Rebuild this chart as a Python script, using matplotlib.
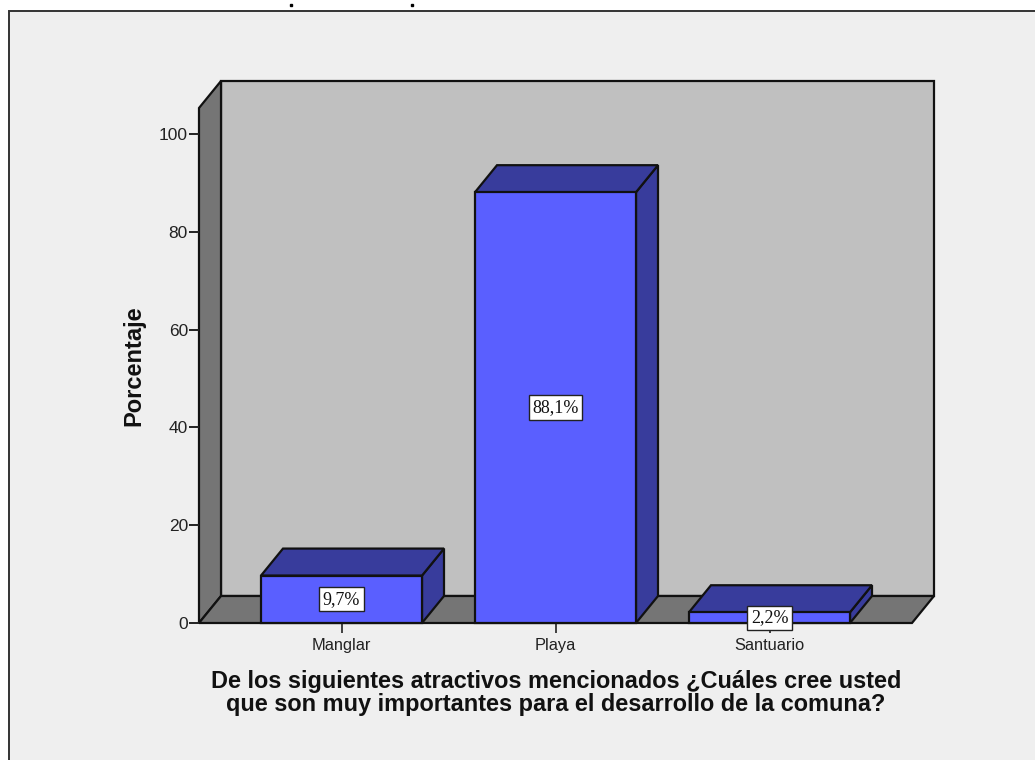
import matplotlib
matplotlib.use("Agg")
import matplotlib.pyplot as plt
from matplotlib.lines import Line2D
from matplotlib.patches import Polygon, Rectangle

plt.rcParams["font.family"] = ["Liberation Sans", "DejaVu Sans"]

categories = ["Manglar", "Playa", "Santuario"]
values = [9.7, 88.1, 2.2]
value_labels = ["9,7%", "88,1%", "2,2%"]
y_ticks = [0, 20, 40, 60, 80, 100]
x_title = "De los siguientes atractivos mencionados ¿Cuáles cree usted\nque son muy importantes para el desarrollo de la comuna?"
y_title = "Porcentaje"

W, H = 1035, 760
LEFT, RIGHT, BOTTOM, TOP = 199, 912, 623, 108
PX_PER_CAT = 214.0
PX_PER_PCT = 4.89
DEPTH_X = 22 / PX_PER_CAT
DEPTH_Y = 27 / PX_PER_PCT
BAR_W = 161 / PX_PER_CAT

FRONT = "#5a5fff"
SHADE = "#383c9c"
GREY = "#757575"
WALL = "#c0c0c0"
PANEL = "#efefef"
EDGE = "#111111"


def poly(ax, pts, color, z=1, lw=1.6):
    ax.add_patch(Polygon(pts, closed=True, facecolor=color, edgecolor=EDGE,
                         linewidth=lw, joinstyle="miter", clip_on=False, zorder=z))


fig = plt.figure(figsize=(W / 100, H / 100), dpi=100, facecolor="white")
fig.add_artist(Rectangle((9 / W, -0.01), 1.02, 1.01 - 11 / H, transform=fig.transFigure,
                         facecolor=PANEL, edgecolor="#333333", linewidth=1.4, zorder=-1))
for dot_x in [291, 412]:
    fig.add_artist(Line2D([dot_x / W], [1 - 4.5 / H], marker="s", markersize=2,
                          color="black", linestyle="none", transform=fig.transFigure))

ax = fig.add_axes([LEFT / W, 1 - BOTTOM / H, (RIGHT - LEFT) / W, (BOTTOM - TOP) / H])
ax.patch.set_visible(False)
x0 = 0 - 142.5 / PX_PER_CAT
x1 = x0 + (RIGHT - LEFT) / PX_PER_CAT
y1 = (BOTTOM - TOP) / PX_PER_PCT
ax.set_xlim(x0, x1)
ax.set_ylim(0, y1)

# back wall, side wall, floor
poly(ax, [(x0 + DEPTH_X, DEPTH_Y), (x1 + DEPTH_X, DEPTH_Y), (x1 + DEPTH_X, y1 + DEPTH_Y), (x0 + DEPTH_X, y1 + DEPTH_Y)], WALL)
poly(ax, [(x0, 0), (x0 + DEPTH_X, DEPTH_Y), (x0 + DEPTH_X, y1 + DEPTH_Y), (x0, y1)], GREY)
poly(ax, [(x0, 0), (x1, 0), (x1 + DEPTH_X, DEPTH_Y), (x0 + DEPTH_X, DEPTH_Y)], GREY)

for i, (v, lab) in enumerate(zip(values, value_labels)):
    a, b = i - BAR_W / 2, i + BAR_W / 2
    poly(ax, [(b, 0), (b + DEPTH_X, DEPTH_Y), (b + DEPTH_X, v + DEPTH_Y), (b, v)], SHADE, z=3)
    poly(ax, [(a, v), (b, v), (b + DEPTH_X, v + DEPTH_Y), (a + DEPTH_X, v + DEPTH_Y)], SHADE, z=3)
    poly(ax, [(a, 0), (b, 0), (b, v), (a, v)], FRONT, z=4)
    ax.text(i, v / 2, lab, ha="center", va="center", fontsize=13, color="#111111",
            family=["Liberation Serif"], zorder=6, clip_on=False,
            bbox=dict(boxstyle="square,pad=0.2", facecolor="white", edgecolor="#222222", linewidth=1.0))

for side in ["top", "right", "left", "bottom"]:
    ax.spines[side].set_visible(False)

ax.set_xticks(range(len(categories)))
ax.set_xticklabels(categories, fontsize=11.8, color="#222222")
ax.set_yticks(y_ticks)
ax.tick_params(axis="y", length=7, width=1.4, labelsize=12.5, pad=1, labelcolor="#222222", color="#222222")
ax.tick_params(axis="x", length=7, width=1.2, pad=4, color="#222222")

fig.text(134 / W, 1 - 366 / H, y_title, rotation=90, ha="center", va="center",
         fontsize=17, fontweight="bold", color="#111111")
fig.text(556 / W, 1 - 693 / H, x_title, ha="center", va="center", fontsize=16.9,
         fontweight="bold", color="#111111", linespacing=1.0)

fig.savefig("out.png", dpi=100)
